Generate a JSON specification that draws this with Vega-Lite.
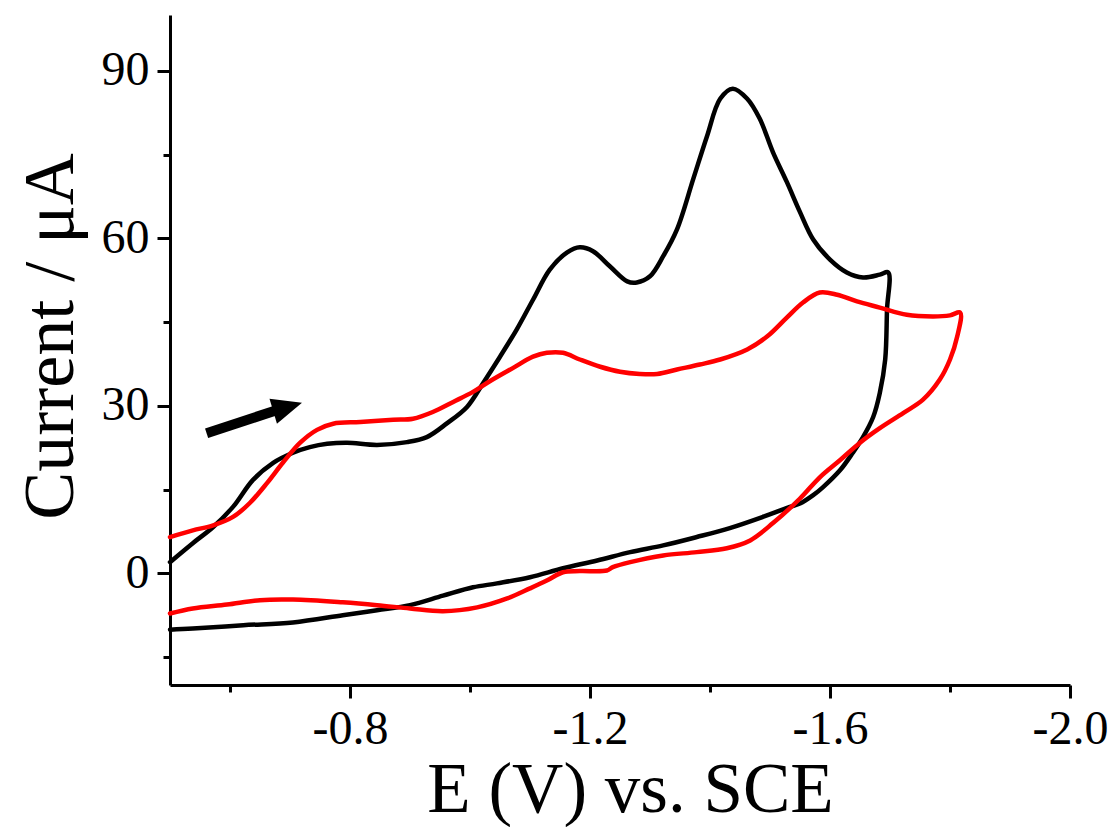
{
  "$schema": "https://vega.github.io/schema/vega-lite/v6.json",
  "width": 900,
  "height": 670,
  "autosize": "none",
  "padding": {"left": 170, "top": 15, "right": 44, "bottom": 142},
  "background": "white",
  "config": {
    "view": {"stroke": null},
    "font": "Liberation Serif"
  },
  "datasets": {
    "cv": [
      {"s": "black", "i": 0, "E": -0.5, "I": 2.0},
      {"s": "black", "i": 1, "E": -0.538, "I": 5.4},
      {"s": "black", "i": 2, "E": -0.572, "I": 8.3},
      {"s": "black", "i": 3, "E": -0.605, "I": 11.9},
      {"s": "black", "i": 4, "E": -0.638, "I": 16.7},
      {"s": "black", "i": 5, "E": -0.672, "I": 19.8},
      {"s": "black", "i": 6, "E": -0.705, "I": 21.6},
      {"s": "black", "i": 7, "E": -0.733, "I": 22.6},
      {"s": "black", "i": 8, "E": -0.762, "I": 23.2},
      {"s": "black", "i": 9, "E": -0.795, "I": 23.4},
      {"s": "black", "i": 10, "E": -0.845, "I": 23.0},
      {"s": "black", "i": 11, "E": -0.895, "I": 23.5},
      {"s": "black", "i": 12, "E": -0.928, "I": 24.4},
      {"s": "black", "i": 13, "E": -0.962, "I": 26.9},
      {"s": "black", "i": 14, "E": -0.995, "I": 29.8},
      {"s": "black", "i": 15, "E": -1.022, "I": 34.1},
      {"s": "black", "i": 16, "E": -1.05, "I": 38.8},
      {"s": "black", "i": 17, "E": -1.078, "I": 43.7},
      {"s": "black", "i": 18, "E": -1.105, "I": 49.0},
      {"s": "black", "i": 19, "E": -1.133, "I": 54.4},
      {"s": "black", "i": 20, "E": -1.162, "I": 57.5},
      {"s": "black", "i": 21, "E": -1.183, "I": 58.4},
      {"s": "black", "i": 22, "E": -1.205, "I": 57.7},
      {"s": "black", "i": 23, "E": -1.233, "I": 55.0},
      {"s": "black", "i": 24, "E": -1.262, "I": 52.3},
      {"s": "black", "i": 25, "E": -1.278, "I": 52.1},
      {"s": "black", "i": 26, "E": -1.3, "I": 53.2},
      {"s": "black", "i": 27, "E": -1.322, "I": 56.8},
      {"s": "black", "i": 28, "E": -1.345, "I": 61.6},
      {"s": "black", "i": 29, "E": -1.372, "I": 70.6},
      {"s": "black", "i": 30, "E": -1.395, "I": 78.3},
      {"s": "black", "i": 31, "E": -1.417, "I": 85.0},
      {"s": "black", "i": 32, "E": -1.438, "I": 86.8},
      {"s": "black", "i": 33, "E": -1.462, "I": 85.0},
      {"s": "black", "i": 34, "E": -1.483, "I": 81.4},
      {"s": "black", "i": 35, "E": -1.505, "I": 75.4},
      {"s": "black", "i": 36, "E": -1.528, "I": 70.1},
      {"s": "black", "i": 37, "E": -1.55, "I": 64.7},
      {"s": "black", "i": 38, "E": -1.572, "I": 59.8},
      {"s": "black", "i": 39, "E": -1.6, "I": 56.2},
      {"s": "black", "i": 40, "E": -1.628, "I": 53.9},
      {"s": "black", "i": 41, "E": -1.655, "I": 53.0},
      {"s": "black", "i": 42, "E": -1.683, "I": 53.5},
      {"s": "black", "i": 43, "E": -1.697, "I": 53.9},
      {"s": "black", "i": 44, "E": -1.695, "I": 47.2},
      {"s": "black", "i": 45, "E": -1.692, "I": 38.3},
      {"s": "black", "i": 46, "E": -1.683, "I": 32.3},
      {"s": "black", "i": 47, "E": -1.672, "I": 28.0},
      {"s": "black", "i": 48, "E": -1.655, "I": 24.4},
      {"s": "black", "i": 49, "E": -1.638, "I": 21.6},
      {"s": "black", "i": 50, "E": -1.617, "I": 18.5},
      {"s": "black", "i": 51, "E": -1.588, "I": 15.4},
      {"s": "black", "i": 52, "E": -1.572, "I": 14.0},
      {"s": "black", "i": 53, "E": -1.55, "I": 12.5},
      {"s": "black", "i": 54, "E": -1.533, "I": 11.9},
      {"s": "black", "i": 55, "E": -1.488, "I": 10.1},
      {"s": "black", "i": 56, "E": -1.433, "I": 8.1},
      {"s": "black", "i": 57, "E": -1.378, "I": 6.5},
      {"s": "black", "i": 58, "E": -1.322, "I": 5.0},
      {"s": "black", "i": 59, "E": -1.267, "I": 3.8},
      {"s": "black", "i": 60, "E": -1.212, "I": 2.3},
      {"s": "black", "i": 61, "E": -1.155, "I": 0.9},
      {"s": "black", "i": 62, "E": -1.1, "I": -0.7},
      {"s": "black", "i": 63, "E": -1.045, "I": -1.8},
      {"s": "black", "i": 64, "E": -1.005, "I": -2.5},
      {"s": "black", "i": 65, "E": -0.955, "I": -4.0},
      {"s": "black", "i": 66, "E": -0.9, "I": -5.7},
      {"s": "black", "i": 67, "E": -0.845, "I": -6.6},
      {"s": "black", "i": 68, "E": -0.788, "I": -7.5},
      {"s": "black", "i": 69, "E": -0.705, "I": -8.8},
      {"s": "black", "i": 70, "E": -0.622, "I": -9.3},
      {"s": "black", "i": 71, "E": -0.538, "I": -9.9},
      {"s": "black", "i": 72, "E": -0.5, "I": -10.1},
      {"s": "red", "i": 0, "E": -0.5, "I": 6.5},
      {"s": "red", "i": 1, "E": -0.538, "I": 7.7},
      {"s": "red", "i": 2, "E": -0.572, "I": 8.6},
      {"s": "red", "i": 3, "E": -0.605, "I": 10.1},
      {"s": "red", "i": 4, "E": -0.633, "I": 12.6},
      {"s": "red", "i": 5, "E": -0.662, "I": 16.2},
      {"s": "red", "i": 6, "E": -0.688, "I": 19.8},
      {"s": "red", "i": 7, "E": -0.717, "I": 23.4},
      {"s": "red", "i": 8, "E": -0.745, "I": 25.7},
      {"s": "red", "i": 9, "E": -0.772, "I": 26.8},
      {"s": "red", "i": 10, "E": -0.817, "I": 27.1},
      {"s": "red", "i": 11, "E": -0.872, "I": 27.5},
      {"s": "red", "i": 12, "E": -0.905, "I": 27.7},
      {"s": "red", "i": 13, "E": -0.938, "I": 28.9},
      {"s": "red", "i": 14, "E": -0.972, "I": 30.7},
      {"s": "red", "i": 15, "E": -1.005, "I": 32.5},
      {"s": "red", "i": 16, "E": -1.033, "I": 34.4},
      {"s": "red", "i": 17, "E": -1.072, "I": 36.8},
      {"s": "red", "i": 18, "E": -1.105, "I": 38.8},
      {"s": "red", "i": 19, "E": -1.128, "I": 39.5},
      {"s": "red", "i": 20, "E": -1.155, "I": 39.5},
      {"s": "red", "i": 21, "E": -1.183, "I": 38.3},
      {"s": "red", "i": 22, "E": -1.217, "I": 37.0},
      {"s": "red", "i": 23, "E": -1.25, "I": 36.1},
      {"s": "red", "i": 24, "E": -1.283, "I": 35.7},
      {"s": "red", "i": 25, "E": -1.312, "I": 35.7},
      {"s": "red", "i": 26, "E": -1.345, "I": 36.5},
      {"s": "red", "i": 27, "E": -1.383, "I": 37.4},
      {"s": "red", "i": 28, "E": -1.417, "I": 38.3},
      {"s": "red", "i": 29, "E": -1.462, "I": 40.1},
      {"s": "red", "i": 30, "E": -1.495, "I": 42.4},
      {"s": "red", "i": 31, "E": -1.528, "I": 45.8},
      {"s": "red", "i": 32, "E": -1.555, "I": 48.5},
      {"s": "red", "i": 33, "E": -1.583, "I": 50.3},
      {"s": "red", "i": 34, "E": -1.612, "I": 49.9},
      {"s": "red", "i": 35, "E": -1.645, "I": 48.7},
      {"s": "red", "i": 36, "E": -1.683, "I": 47.6},
      {"s": "red", "i": 37, "E": -1.728, "I": 46.3},
      {"s": "red", "i": 38, "E": -1.772, "I": 46.0},
      {"s": "red", "i": 39, "E": -1.8, "I": 46.2},
      {"s": "red", "i": 40, "E": -1.817, "I": 46.7},
      {"s": "red", "i": 41, "E": -1.812, "I": 42.4},
      {"s": "red", "i": 42, "E": -1.8, "I": 38.3},
      {"s": "red", "i": 43, "E": -1.783, "I": 34.7},
      {"s": "red", "i": 44, "E": -1.755, "I": 31.1},
      {"s": "red", "i": 45, "E": -1.722, "I": 28.7},
      {"s": "red", "i": 46, "E": -1.683, "I": 26.0},
      {"s": "red", "i": 47, "E": -1.65, "I": 23.4},
      {"s": "red", "i": 48, "E": -1.617, "I": 20.3},
      {"s": "red", "i": 49, "E": -1.583, "I": 17.2},
      {"s": "red", "i": 50, "E": -1.55, "I": 13.4},
      {"s": "red", "i": 51, "E": -1.505, "I": 9.0},
      {"s": "red", "i": 52, "E": -1.467, "I": 5.9},
      {"s": "red", "i": 53, "E": -1.428, "I": 4.5},
      {"s": "red", "i": 54, "E": -1.378, "I": 3.8},
      {"s": "red", "i": 55, "E": -1.322, "I": 3.2},
      {"s": "red", "i": 56, "E": -1.267, "I": 2.0},
      {"s": "red", "i": 57, "E": -1.238, "I": 1.1},
      {"s": "red", "i": 58, "E": -1.228, "I": 0.5},
      {"s": "red", "i": 59, "E": -1.183, "I": 0.4},
      {"s": "red", "i": 60, "E": -1.155, "I": 0.2},
      {"s": "red", "i": 61, "E": -1.128, "I": -1.3},
      {"s": "red", "i": 62, "E": -1.1, "I": -2.7},
      {"s": "red", "i": 63, "E": -1.062, "I": -4.5},
      {"s": "red", "i": 64, "E": -1.012, "I": -6.1},
      {"s": "red", "i": 65, "E": -0.955, "I": -6.8},
      {"s": "red", "i": 66, "E": -0.9, "I": -6.3},
      {"s": "red", "i": 67, "E": -0.845, "I": -5.7},
      {"s": "red", "i": 68, "E": -0.788, "I": -5.2},
      {"s": "red", "i": 69, "E": -0.705, "I": -4.7},
      {"s": "red", "i": 70, "E": -0.65, "I": -4.8},
      {"s": "red", "i": 71, "E": -0.595, "I": -5.6},
      {"s": "red", "i": 72, "E": -0.538, "I": -6.3},
      {"s": "red", "i": 73, "E": -0.5, "I": -7.2}
    ],
    "shaft": [
      {"E": -0.561, "I": 25.1},
      {"E": -0.68, "I": 29.3}
    ],
    "head": [
      {"E": -0.696, "I": 29.8}
    ]
  },
  "encoding": {
    "x": {
      "field": "E",
      "type": "quantitative",
      "scale": {"domain": [-0.5, -2.0], "nice": false, "zero": false},
      "axis": {
        "title": "E (V) vs. SCE",
        "titleFont": "Liberation Serif",
        "titleFontSize": 71,
        "titleFontWeight": "normal",
        "titleColor": "black",
        "titleBaseline": "alphabetic",
        "titleY": 126,
        "titleX": 460,
        "values": [-0.6, -0.8, -1.0, -1.2, -1.4, -1.6, -1.8, -2.0],
        "labelExpr": "abs(round(datum.value * 10)) % 4 == 0 ? '-' + format(abs(datum.value), '.1f') : ''",
        "labelFont": "Liberation Serif",
        "labelFontSize": 48,
        "labelColor": "black",
        "labelPadding": 7,
        "labelFlush": false,
        "labelOverlap": false,
        "grid": false,
        "domainColor": "black",
        "domainWidth": 3,
        "tickColor": "black",
        "tickWidth": 3,
        "tickSize": {"condition": {"test": "abs(round(datum.value * 10)) % 4 == 0", "value": 13}, "value": 7}
      }
    },
    "y": {
      "field": "I",
      "type": "quantitative",
      "scale": {"domain": [-20, 100], "nice": false, "zero": false},
      "axis": {
        "title": "Current / μA",
        "titleFont": "Liberation Serif",
        "titleFontSize": 72,
        "titleFontWeight": "normal",
        "titleColor": "black",
        "titleAngle": -90,
        "titleBaseline": "alphabetic",
        "titleAlign": "center",
        "titleX": -98,
        "titleY": 321,
        "values": [-15, 0, 15, 30, 45, 60, 75, 90],
        "labelExpr": "datum.value % 30 == 0 && datum.value >= 0 ? format(datum.value, 'd') : ''",
        "labelFont": "Liberation Serif",
        "labelFontSize": 48,
        "labelColor": "black",
        "labelPadding": 8,
        "labelFlush": false,
        "labelOverlap": false,
        "grid": false,
        "domainColor": "black",
        "domainWidth": 3,
        "tickColor": "black",
        "tickWidth": 3,
        "tickSize": {"condition": {"test": "datum.value % 30 == 0", "value": 13}, "value": 7}
      }
    }
  },
  "layer": [
    {
      "data": {"name": "cv"},
      "mark": {"type": "line", "strokeWidth": 4.5, "strokeJoin": "round", "strokeCap": "round", "interpolate": "catmull-rom"},
      "encoding": {
        "color": {
          "field": "s",
          "type": "nominal",
          "scale": {"domain": ["black", "red"], "range": ["#000000", "#ff0000"]},
          "legend": null
        },
        "detail": {"field": "s"},
        "order": {"field": "i", "type": "quantitative"}
      }
    },
    {
      "data": {"name": "shaft"},
      "mark": {"type": "line", "strokeWidth": 10, "color": "black", "strokeCap": "butt"},
      "encoding": {}
    },
    {
      "data": {"name": "head"},
      "mark": {
        "type": "point",
        "shape": "M 1 0 L -1 -0.87 L -1 0.87 Z",
        "size": 900,
        "angle": -16.6,
        "filled": true,
        "color": "black",
        "opacity": 1,
        "strokeWidth": 0
      },
      "encoding": {}
    }
  ]
}
